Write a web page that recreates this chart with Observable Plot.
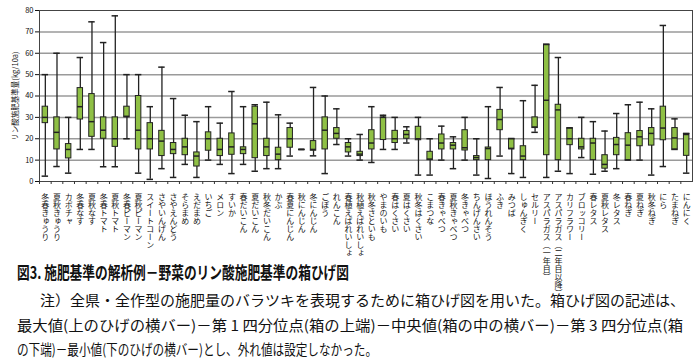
<!DOCTYPE html>
<html><head><meta charset="utf-8">
<script src="https://cdn.jsdelivr.net/npm/d3@7"></script>
<script src="https://cdn.jsdelivr.net/npm/@observablehq/plot@0.6"></script>
<style>
body{margin:0;background:#fff;font-family:"Noto Sans CJK JP",sans-serif;color:#111;}
#wrap{position:relative;width:700px;height:358px;overflow:hidden;}
#chart svg{overflow:visible;display:block;}
.title{position:absolute;left:17px;top:263px;font-size:17px;line-height:1;font-weight:bold;white-space:nowrap;transform-origin:0 0;}
.note{position:absolute;font-size:14.5px;line-height:1;white-space:nowrap;transform-origin:0 0;}
</style></head>
<body><div id="wrap"><div id="chart"></div>
<div class="title fit" data-w="332">図3. 施肥基準の解析例－野菜のリン酸施肥基準の箱ひげ図</div>
<div class="note fit" data-w="645" style="left:40px;top:293px">注）全県・全作型の施肥量のバラツキを表現するために箱ひげ図を用いた。箱ひげ図の記述は、</div>
<div class="note fit" data-w="666" style="left:17px;top:318px">最大値(上のひげの横バー)－第 1 四分位点(箱の上端)－中央値(箱の中の横バー)－第 3 四分位点(箱</div>
<div class="note fit" data-w="360" style="left:17px;top:342px">の下端)－最小値(下のひげの横バー)とし、外れ値は設定しなかった。</div>
</div>
<script>
const categories = ["冬春きゅうり","夏秋きゅうり","カボチャ","冬春なす","夏秋なす","冬春トマト","夏秋トマト","冬春ピーマン","夏秋ピーマン","スイートコーン","さやいんげん","さやえんどう","そらまめ","えだまめ","いちご","メロン","すいか","春だいこん","夏だいこん","秋冬だいこん","かぶ","春夏にんじん","秋にんじん","冬にんじん","ごぼう","れんこん","春植えばれいしょ","秋植えばれいしょ","秋冬さといも","やまのいも","春はくさい","夏はくさい","秋冬はくさい","こまつな","春きゃべつ","夏秋きゃべつ","冬きゃべつ","ちんげんさい","ほうれんそう","ふき","みつば","しゅんぎく","セルリー","アスパラガス（一年目）","アスパラガス（二年目以降）","カリフラワー","ブロッコリー","春レタス","夏秋レタス","冬レタス","春ねぎ","夏ねぎ","秋冬ねぎ","にら","たまねぎ","にんにく"];
const maxV = [50,60,30,58,74.7,65,77.5,50,50,35,53.5,38.8,31,28,35,27.3,42.1,35,35.9,37.1,31.2,27.3,15,44,40,34,20,22,35,31,30,25.6,30,20,25.9,20.9,30,20,35,44,20,37.8,45,64.1,58,25,30,28,23.6,31.8,35.9,37.1,34,73,29.3,22.5];
const q3V  = [35,30,17.5,43.7,40.9,30,30,35,40,27.3,23.7,18,20,13.6,23,20,22.5,16,35,20,15.8,25,15,18.9,30,25,18,13.9,24,30,23.7,23.6,25.6,13.9,22,18,24,11.9,15.9,33.5,20,16.5,30,64.1,35.9,25,20,20,12.3,20.4,22.6,23.6,25,35,25,22.2];
const medV = [30,23,15,35,28,24,20,30.5,24,20,18.9,15,16.2,11.9,20,15,16.2,15,27,16.2,12.8,20,15,15,24,22.5,16.2,12.8,18,30,20,22,20,10.5,18,17,15.8,11.2,15.4,29,15.5,11.9,25.5,38,33.5,20,16.2,18,8,17.3,17,20.9,22.5,25,20.4,22];
const q1V  = [27.3,15,10.8,29,20.9,20,16.2,30,15,15,11.9,12.8,12.3,7,14.4,11.9,12.5,12.8,10.9,11.9,10,15.8,15,14.4,15,20,13.6,11.9,15,19.4,18,20,19.3,10,15,15,14.5,10,10,24,15,10,25,12.3,10,17,15,10,6,12.3,10,16.5,16.8,19.3,15,12];
const minV = [2.5,7,3.9,15,15,6.9,6.9,20,3.9,1,6,1.9,8,1.9,10,8,3.7,8,4.8,6,6,11.9,15,12,3.7,17.3,11.9,10,8.9,15,15,18,3,3,10,6,10,3,1.4,11.9,3.7,1.9,23,1.9,4.8,3.7,11.2,3.4,4.8,6,10,10,3,7,15,3.9];
const yTicks = [0,10,20,30,40,50,60,70,80];
const gridTicks = [10,20,30,40,50,60,70];

const data = categories.map((c,i)=>({cat:c,max:maxV[i],q3:q3V[i],med:medV[i],q1:q1V[i],min:minV[i]}));
const W = 700, mL = 39, mR = 8;
const bw = (W - mL - mR) / categories.length;
const ink = "#222";
const chart = Plot.plot({
  width: W, height: 262,
  marginLeft: mL, marginRight: mR, marginTop: 10, marginBottom: 81,
  style: {fontFamily: '"Noto Sans CJK JP", sans-serif', background: "transparent", overflow: "visible", color: "#111"},
  x: {type: "band", domain: categories, padding: 0},
  y: {domain: [0, 80]},
  marks: [
    Plot.gridY({ticks: gridTicks, stroke: "#9a9a9a", strokeOpacity: 1, strokeWidth: 1.5}),
    Plot.frame({stroke: "#444"}),
    Plot.axisY({ticks: yTicks, tickSize: 4, tickPadding: 2, fontSize: 7.5, label: "リン酸施肥基準量(kg/10a)", labelAnchor: "center", labelArrow: "none", labelOffset: 27}),
    Plot.axisX({tickSize: 0, tickPadding: 6, fontSize: 8, label: null}),
    Plot.axisX({text: null, tickSize: 3, dx: -bw / 2, label: null, stroke: "#333"}),
    Plot.ruleX(data, {x: "cat", y1: "min", y2: "max", stroke: ink, strokeWidth: 1.3}),
    Plot.barY(data, {x: "cat", y1: "q1", y2: "q3", fill: "#8fc045", stroke: ink, strokeWidth: 1, insetLeft: 3.1, insetRight: 3.1}),
    Plot.tickY(data, {x: "cat", y: "med", stroke: ink, strokeWidth: 1.5, insetLeft: 3.1, insetRight: 3.1}),
    Plot.tickY(data, {x: "cat", y: "max", stroke: ink, strokeWidth: 1.5, insetLeft: 2.6, insetRight: 2.6}),
    Plot.tickY(data, {x: "cat", y: "min", stroke: ink, strokeWidth: 1.5, insetLeft: 2.6, insetRight: 2.6})
  ]
});
document.getElementById("chart").appendChild(chart);
const lab = d3.select(chart).selectAll('g[aria-label="x-axis tick label"]');
lab.attr("text-anchor", "start").attr("dy", null);
lab.selectAll("text").attr("writing-mode", "vertical-rl").attr("dy", null).attr("text-anchor", "start");
document.querySelectorAll(".fit").forEach(el => {
  const w = el.getBoundingClientRect().width;
  const t = +el.dataset.w;
  el.style.transform = `scaleX(${t / w})`;
});
</script>
</body></html>
